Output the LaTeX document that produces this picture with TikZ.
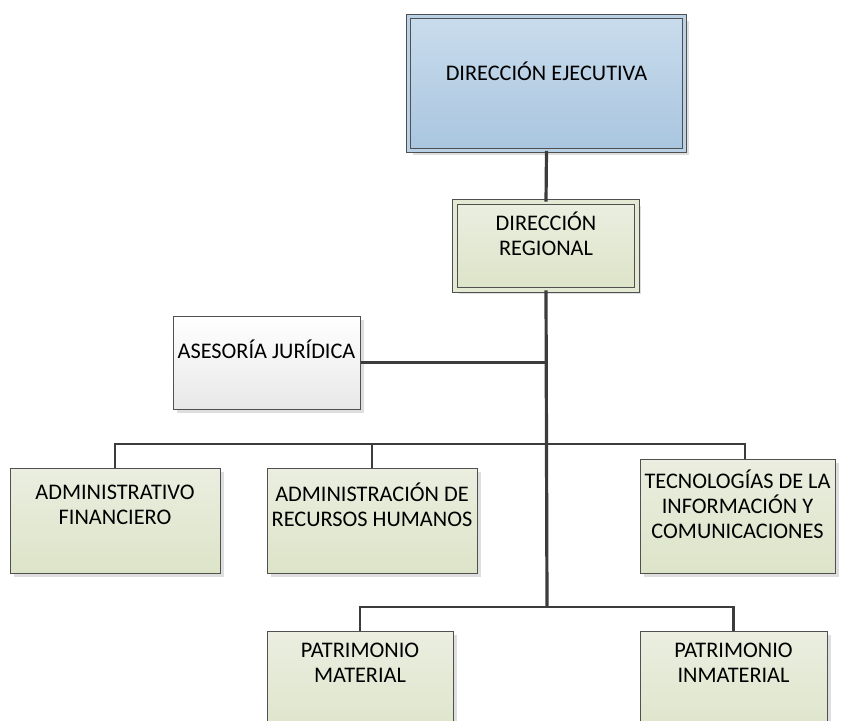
\documentclass[tikz,border=0pt]{standalone}
\usepackage{fontspec}
\setmainfont{Carlito}
\usetikzlibrary{shadows}
\definecolor{frame}{HTML}{505050}
\definecolor{wire}{HTML}{3C3C3C}
\definecolor{bluetop}{HTML}{C9DCEC}
\definecolor{bluebot}{HTML}{A9C5DF}
\definecolor{greentop}{HTML}{EBEEE0}
\definecolor{greenbot}{HTML}{DCE4C8}
\definecolor{greytop}{HTML}{FFFFFF}
\definecolor{greybot}{HTML}{E8E8E8}
\begin{document}
\begin{tikzpicture}[x=1pt,y=-1pt,font=\fontsize{22.3}{25}\selectfont,
  box/.style={draw=frame,line width=1pt,inner sep=0pt,top color=greentop,bottom color=greenbot,
    drop shadow={shadow xshift=4pt,shadow yshift=-4pt,fill=black!13,opacity=1}},
  dbox/.style={box,double=greentop!50!greenbot,double distance=3.5pt,line width=0.8pt},
  txt/.style={align=center,inner sep=0pt},
  conn/.style={draw=wire,line width=2.8pt}]
\useasboundingbox(0,0)rectangle(842,720);
\clip(0,0)rectangle(842,720);
% boxes
\node[dbox,top color=bluetop,bottom color=bluebot,double=bluetop!50!bluebot,minimum width=276,minimum height=134](de)at(546.5,83.5){};
\node[dbox,minimum width=182,minimum height=88](dr)at(546,246){};
\node[box,top color=greytop,bottom color=greybot,minimum width=187,minimum height=93](aj)at(266.5,362.5){};
\node[box,minimum width=210,minimum height=105](af)at(115,520.5){};
\node[box,minimum width=210,minimum height=105](arh)at(372,520.5){};
\node[box,minimum width=195,minimum height=114](tic)at(737.5,516){};
\node[box,minimum width=186,minimum height=114](pm)at(360,688){};
\node[box,minimum width=187,minimum height=114](pi)at(733.5,688){};
% texts
\node[txt](deT)at([yshift=-55.5pt]de.north){DIRECCIÓN EJECUTIVA};
\node[txt](drT)at([yshift=-32.5pt]dr.north){DIRECCIÓN\\REGIONAL};
\node[txt](ajT)at([yshift=-34pt]aj.north){ASESORÍA JURÍDICA};
\node[txt](afT)at([yshift=-37.5pt]af.north){ADMINISTRATIVO\\FINANCIERO};
\node[txt](arhT)at([yshift=-37.5pt]arh.north){ADMINISTRACIÓN DE\\RECURSOS HUMANOS};
\node[txt](ticT)at([yshift=-46pt]tic.north){TECNOLOGÍAS DE LA\\INFORMACIÓN Y\\COMUNICACIONES};
\node[txt](pmT)at([yshift=-32pt]pm.north){PATRIMONIO\\MATERIAL};
\node[txt](piT)at([yshift=-32pt]pi.north){PATRIMONIO\\INMATERIAL};
% lines
\coordinate(b1)at(547,444);
\coordinate(b2)at(547,607);
\coordinate(ticTop)at([xshift=7.5pt]tic.north);
\draw[conn,line width=3.2pt](de.south)--(dr.north);
\draw[conn,line width=3.2pt](dr.south)--(b2);
\draw[conn](aj.east)--(aj.east-|b1);
\draw[conn](af.north)|-(b1)-|(ticTop);
\draw[conn](arh.north)--(arh.north|-b1);
\draw[conn](pm.north)|-(b2)-|(pi.north);
\end{tikzpicture}
\end{document}
